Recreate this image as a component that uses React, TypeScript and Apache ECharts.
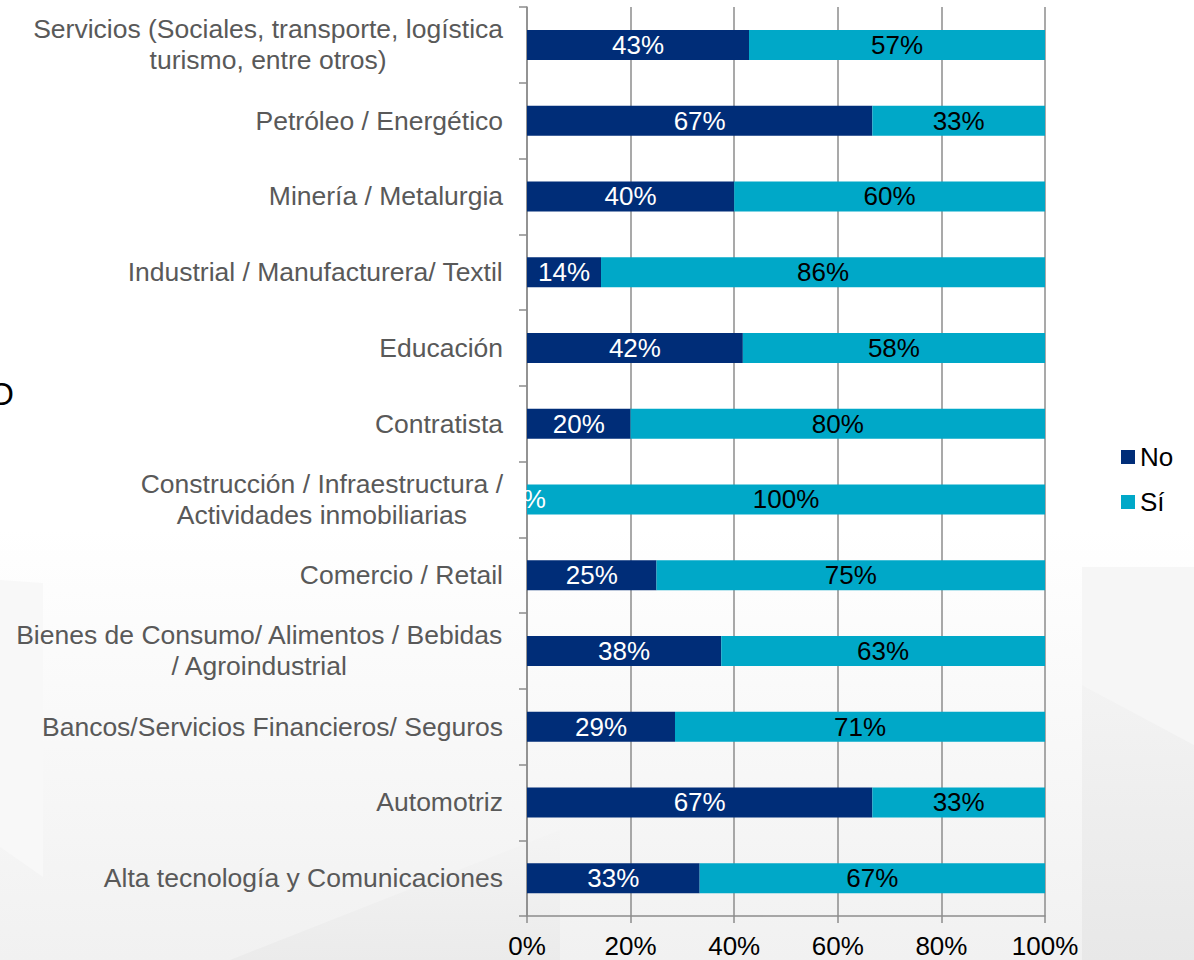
import React, { useEffect, useRef } from "react";
import * as echarts from "echarts";

const categories = [
  "Alta tecnología y Comunicaciones",
  "Automotriz",
  "Bancos/Servicios Financieros/ Seguros",
  "Bienes de Consumo/ Alimentos / Bebidas\n/ Agroindustrial",
  "Comercio / Retail",
  "Construcción / Infraestructura /\nActividades inmobiliarias",
  "Contratista",
  "Educación",
  "Industrial / Manufacturera/ Textil",
  "Minería / Metalurgia",
  "Petróleo / Energético",
  "Servicios (Sociales, transporte, logística\nturismo, entre otros)",
];

const noValues = [33.33, 66.67, 28.57, 37.5, 25, 0, 20, 41.67, 14.29, 40, 66.67, 42.86];
const siValues = [66.67, 33.33, 71.43, 62.5, 75, 100, 80, 58.33, 85.71, 60, 33.33, 57.14];

const seriesNames = ["No", "Sí"];
const xTicks = [0, 20, 40, 60, 80, 100];

const FONT = "'Liberation Sans', Arial, Helvetica, sans-serif";
const NAVY = "#002D78";
const CYAN = "#00A8C8";
const GRID = "#8C8C8C";

export default function App() {
  const ref = useRef<HTMLDivElement>(null);

  useEffect(() => {
    if (!ref.current) return;
    const chart = echarts.init(ref.current, null, { renderer: "svg" });
    const pct = (p: any) => Math.round(p.value) + "%";
    chart.setOption({
      animation: false,
      backgroundColor: "#ffffff",
      graphic: [
        {
          type: "rect",
          z: -20,
          silent: true,
          shape: { x: 0, y: 0, width: 1194, height: 960 },
          style: {
            fill: new echarts.graphic.LinearGradient(0, 0, 0, 1, [
              { offset: 0, color: "#ffffff" },
              { offset: 0.55, color: "#ffffff" },
              { offset: 1, color: "#f1f1f1" },
            ]),
          },
        },
        {
          type: "polygon",
          z: -10,
          silent: true,
          shape: { points: [[1082, 567], [1194, 567], [1194, 745], [1082, 685]] },
          style: { fill: "#f6f6f6" },
        },
        {
          type: "polygon",
          z: -9,
          silent: true,
          shape: { points: [[1082, 685], [1194, 745], [1194, 960], [1082, 960]] },
          style: {
            fill: new echarts.graphic.LinearGradient(0, 0, 0, 1, [
              { offset: 0, color: "#f3f3f3" },
              { offset: 1, color: "#e8e8e8" },
            ]),
          },
        },
        {
          type: "polygon",
          z: -9,
          silent: true,
          shape: { points: [[230, 960], [560, 830], [560, 960]] },
          style: {
            fill: new echarts.graphic.LinearGradient(0, 0, 0, 1, [
              { offset: 0, color: "#f4f4f4" },
              { offset: 1, color: "#ebebeb" },
            ]),
          },
        },
        {
          type: "polygon",
          z: -9,
          silent: true,
          shape: { points: [[0, 580], [43, 583], [43, 877], [0, 847]] },
          style: { fill: "#f8f8f8" },
        },
        {
          type: "text",
          x: -11,
          y: 394,
          silent: true,
          style: {
            text: "O",
            fontSize: 32,
            fontFamily: FONT,
            fill: "#000000",
            verticalAlign: "middle",
          },
        },
      ],
      legend: {
        orient: "vertical",
        left: 1121,
        top: 444,
        padding: 0,
        itemWidth: 14,
        itemHeight: 14,
        itemGap: 19,
        icon: "rect",
        data: seriesNames,
        textStyle: { fontSize: 26, fontFamily: FONT, color: "#000000" },
      },
      grid: {
        left: 527,
        right: 149,
        top: 7,
        bottom: 44,
        containLabel: false,
        outerBoundsMode: "none",
      },
      xAxis: {
        type: "value",
        min: 0,
        max: 100,
        interval: 20,
        axisLine: { show: true, lineStyle: { color: GRID, width: 1.5 } },
        axisTick: { show: true, length: 7, lineStyle: { color: GRID, width: 1.5 } },
        splitLine: { show: true, lineStyle: { color: GRID, width: 1.5 } },
        axisLabel: {
          margin: 17,
          fontSize: 26,
          fontFamily: FONT,
          color: "#000000",
          formatter: (v: number) => (xTicks.includes(v) ? v + "%" : ""),
        },
      },
      yAxis: {
        type: "category",
        data: categories,
        axisLine: { show: true, lineStyle: { color: GRID, width: 1.5 } },
        axisTick: { show: true, length: 8, lineStyle: { color: GRID, width: 1.5 } },
        axisLabel: {
          margin: 24,
          formatter: (v: string) =>
            v
              .split("\n")
              .map((l) => `{a|${l}}`)
              .join("\n"),
          rich: {
            a: {
              align: "center",
              fontSize: 26.5,
              lineHeight: 31,
              fontFamily: FONT,
              color: "#595959",
            },
          },
        },
      },
      series: [
        {
          name: seriesNames[0],
          type: "bar",
          stack: "total",
          barWidth: 30,
          data: noValues,
          itemStyle: { color: NAVY },
          label: {
            show: true,
            position: "inside",
            formatter: pct,
            fontSize: 26,
            fontFamily: FONT,
            color: "#ffffff",
          },
        },
        {
          name: seriesNames[1],
          type: "bar",
          stack: "total",
          barWidth: 30,
          data: siValues,
          itemStyle: { color: CYAN },
          label: {
            show: true,
            position: "inside",
            formatter: pct,
            fontSize: 26,
            fontFamily: FONT,
            color: "#000000",
          },
        },
      ],
    });
    return () => chart.dispose();
  }, []);

  return (
    <div
      ref={ref}
      style={{ position: "absolute", left: 0, top: 0, width: 1194, height: 960 }}
    />
  );
}
